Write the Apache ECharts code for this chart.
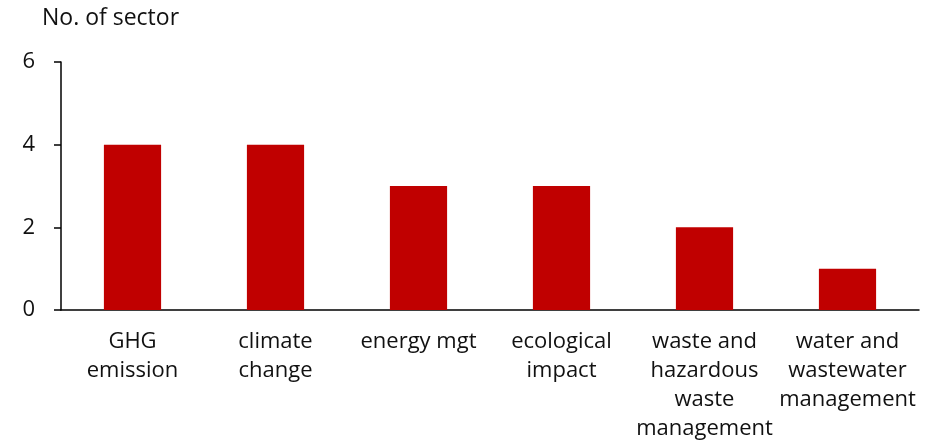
<!DOCTYPE html>
<html><head><meta charset="utf-8">
<script src="https://cdn.jsdelivr.net/npm/echarts@6/dist/echarts.min.js"></script>
<style>html,body{margin:0;padding:0;background:#fff}#c{width:935px;height:441px}</style>
</head><body><div id="c"></div>
<script>
const categories = ["GHG\nemission", "climate\nchange", "energy mgt", "ecological\nimpact", "waste and\nhazardous\nwaste\nmanagement", "water and\nwastewater\nmanagement"];
const values = [4, 4, 3, 3, 2, 1];
const yTicks = {min: 0, max: 6, interval: 2};
const axisName = "No. of sector";

const font = "'Open Sans', 'Noto Sans', sans-serif";
const chart = echarts.init(document.getElementById('c'));
chart.setOption({
  animation: false,
  grid: {left: 61, right: 16, top: 62, bottom: 131, containLabel: false, outerBoundsMode: 'none'},
  graphic: [{type: 'text', left: 42, top: 7, style: {text: axisName, font: "23px " + font, fill: '#111'}}],
  xAxis: {
    type: 'category', data: categories,
    axisLine: {lineStyle: {color: '#000', width: 1.5}},
    axisTick: {length: 5, lineStyle: {color: '#000', width: 1.5}},
    axisLabel: {color: '#111', fontSize: 22, fontFamily: font, lineHeight: 29, margin: 17, interval: 0}
  },
  yAxis: {
    type: 'value', min: yTicks.min, max: yTicks.max, interval: yTicks.interval,
    splitLine: {show: false},
    axisLine: {show: true, lineStyle: {color: '#000', width: 1.5}},
    axisTick: {show: true, length: 7, lineStyle: {color: '#000', width: 1.5}},
    axisLabel: {color: '#111', fontSize: 22, fontFamily: font, margin: 26}
  },
  series: [{type: 'bar', data: values, barWidth: '40%', itemStyle: {color: '#C00000'}}]
});
</script></body></html>
